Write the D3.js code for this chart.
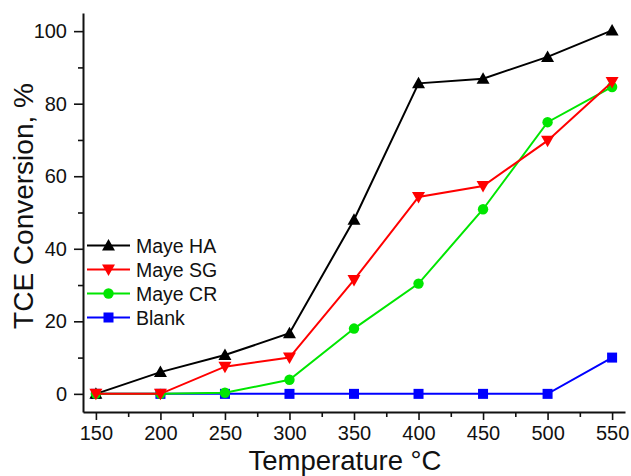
<!DOCTYPE html>
<html>
<head>
<meta charset="utf-8">
<script src="https://cdn.jsdelivr.net/npm/d3@7"></script>
<style>
  html, body { margin: 0; padding: 0; background: #fff; }
  svg { display: block; font-family: "Liberation Sans", Arial, sans-serif; }
</style>
</head>
<body>
<svg id="chart" width="631" height="476"></svg>
<script>
const temperatures = [150, 200, 250, 300, 350, 400, 450, 500, 550];
const mayeHA = [0, 6.0, 10.7, 16.7, 48.0, 85.6, 86.9, 92.9, 100.2];
const mayeSG = [0, 0, 7.5, 10.0, 31.4, 54.3, 57.3, 69.8, 86.0];
const mayeCR = [0, 0, 0.3, 3.9, 18.0, 30.4, 50.9, 74.9, 84.6];
const blank = [0, 0, 0, 0, 0, 0, 0, 0, 10.0];
const xTicks = [150, 200, 250, 300, 350, 400, 450, 500, 550];
const yTicks = [0, 20, 40, 60, 80, 100];

const series = [
  { name: "Maye HA", values: mayeHA, color: "#000000", symbol: "up" },
  { name: "Maye SG", values: mayeSG, color: "#ff0000", symbol: "down" },
  { name: "Maye CR", values: mayeCR, color: "#00e600", symbol: "circle" },
  { name: "Blank", values: blank, color: "#0000ff", symbol: "square" }
];
const drawOrder = [3, 0, 2, 1];

const svg = d3.select("#chart");
const x = d3.scaleLinear().domain([140, 560]).range([83, 625]);
const y = d3.scaleLinear().domain([-5, 105]).range([412, 13]);

// Axes
const xMinor = d3.range(175, 560, 50);
const yMinor = d3.range(10, 105, 20);

const gx = svg.append("g").attr("transform", `translate(0,${y.range()[0]})`);
gx.call(d3.axisBottom(x).tickValues(xTicks).tickSize(8).tickSizeOuter(0).tickPadding(6).tickFormat(d3.format("d")));
gx.append("g").call(d3.axisBottom(x).tickValues(xMinor).tickSize(5).tickSizeOuter(0).tickFormat(""))
  .select(".domain").remove();
gx.selectAll("text").attr("font-size", 20).attr("fill", "#111").attr("font-family", "Liberation Sans, Arial, sans-serif");
gx.selectAll("line").attr("stroke", "#111").attr("stroke-width", 1.6);
gx.select(".domain").attr("stroke", "#111").attr("stroke-width", 2);

const gy = svg.append("g").attr("transform", `translate(${x.range()[0]},0)`);
gy.call(d3.axisLeft(y).tickValues(yTicks).tickSize(9).tickSizeOuter(0).tickPadding(7).tickFormat(d3.format("d")));
gy.append("g").call(d3.axisLeft(y).tickValues(yMinor).tickSize(5).tickSizeOuter(0).tickFormat(""))
  .select(".domain").remove();
gy.selectAll("text").attr("font-size", 20).attr("fill", "#111").attr("font-family", "Liberation Sans, Arial, sans-serif");
gy.selectAll("line").attr("stroke", "#111").attr("stroke-width", 1.6);
gy.select(".domain").attr("stroke", "#111").attr("stroke-width", 2);

// Axis titles
svg.append("text")
  .attr("x", 345).attr("y", 470)
  .attr("text-anchor", "middle")
  .attr("font-size", 27.5).attr("fill", "#111")
  .text("Temperature °C");
svg.append("text")
  .attr("transform", "translate(33,206) rotate(-90)")
  .attr("text-anchor", "middle")
  .attr("font-size", 28).attr("fill", "#111")
  .text("TCE Conversion, %");

// Symbols
function drawMarker(g, sym, cx, cy, color) {
  if (sym === "up") {
    g.append("path").attr("d", `M${cx},${cy-6.5} L${cx+6.5},${cy+5} L${cx-6.5},${cy+5} Z`).attr("fill", color);
  } else if (sym === "down") {
    g.append("path").attr("d", `M${cx},${cy+6.5} L${cx+6.5},${cy-5} L${cx-6.5},${cy-5} Z`).attr("fill", color);
  } else if (sym === "circle") {
    g.append("circle").attr("cx", cx).attr("cy", cy).attr("r", 5.2).attr("fill", color);
  } else {
    g.append("rect").attr("x", cx-5).attr("y", cy-5).attr("width", 10).attr("height", 10).attr("fill", color);
  }
}

const line = d3.line().x(d => x(d[0])).y(d => y(d[1]));
drawOrder.forEach(i => {
  const s = series[i];
  const pts = temperatures.map((t, k) => [t, s.values[k]]);
  const g = svg.append("g");
  g.append("path").datum(pts).attr("d", line)
    .attr("fill", "none").attr("stroke", s.color).attr("stroke-width", 2);
  pts.forEach(p => drawMarker(g, s.symbol, x(p[0]), y(p[1]), s.color));
});

// Legend
const legend = svg.append("g");
series.forEach((s, i) => {
  const ly = 245.5 + i * 24;
  legend.append("line").attr("x1", 87).attr("x2", 130).attr("y1", ly).attr("y2", ly)
    .attr("stroke", s.color).attr("stroke-width", 2);
  drawMarker(legend, s.symbol, 108.5, ly, s.color);
  legend.append("text").attr("x", 136).attr("y", ly + 7)
    .attr("font-size", 19.5).attr("fill", "#111").text(s.name);
});
</script>
</body>
</html>
